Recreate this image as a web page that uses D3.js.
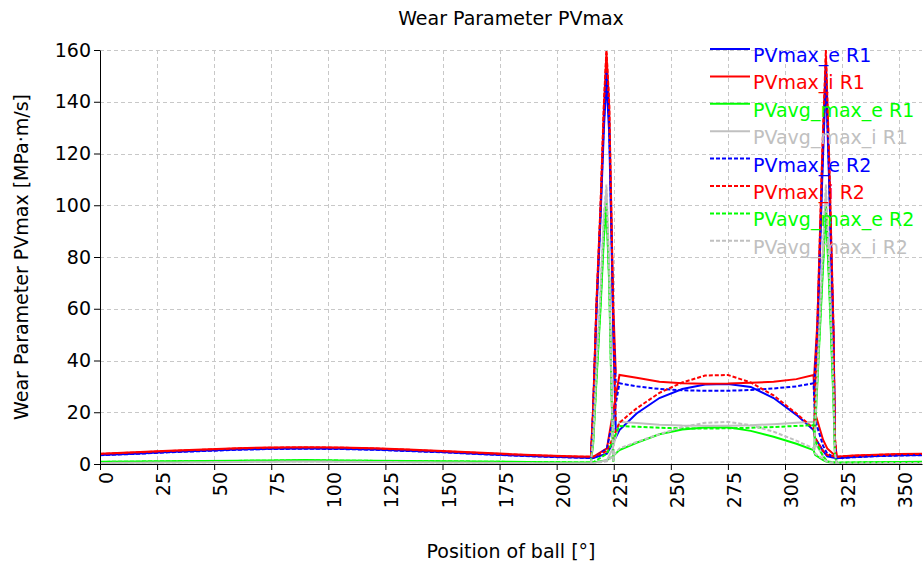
<!DOCTYPE html>
<html>
<head>
<meta charset="utf-8">
<script src="https://cdn.jsdelivr.net/npm/d3@7"></script>
<style>
    body { margin: 0; background: #fff; }
    svg { display: block; font-family: "DejaVu Sans", Tahoma, sans-serif; }
</style>
</head>
<body>
<svg id="chart" width="924" height="571"></svg>
<script>
// ball positions [deg] for the main traces
const positions = [0, 15, 30, 45, 60, 75, 90, 105, 120, 135, 150, 165, 180, 195, 210, 216, 222, 224.6, 227.5,
    235, 245, 255, 265, 275, 285, 295, 305, 312.5, 313.2, 316.7, 318.5, 322.5, 330, 340, 350, 360];
// positions of the two contact spikes
const spikeAPositions = [215, 216, 217.4, 219.2, 220.7, 221.8, 223, 223.9, 224.8, 225.9];
const spikeBPositions = [312.8, 314.2, 316.3, 317.9, 319.3, 321.2, 321.9, 322.6];

const xTicks = [0, 25, 50, 75, 100, 125, 150, 175, 200, 225, 250, 275, 300, 325, 350];
const yTicks = [0, 20, 40, 60, 80, 100, 120, 140, 160];

// R1
const pvmaxE_R1 = [3.5, 4.0, 4.6, 5.1, 5.6, 5.9, 6.0, 5.9, 5.6, 5.1, 4.6, 4.0, 3.4, 2.9, 2.5, 2.3, 4.0, 8.0, 13.1,
    19.5, 25.5, 29.0, 30.7, 30.9, 29.8, 25.5, 19.0, 13.1, 10.0, 5.0, 3.0, 2.2, 2.7, 3.1, 3.4, 3.5];
const pvmaxI_R1 = [4.0, 4.5, 5.1, 5.6, 6.1, 6.4, 6.5, 6.4, 6.1, 5.6, 5.0, 4.4, 3.8, 3.3, 2.9, 2.8, 6.0, 19.6, 34.4,
    33.3, 31.8, 31.2, 31.0, 31.1, 31.4, 31.8, 32.8, 34.4, 19.6, 9.3, 6.0, 2.8, 3.3, 3.6, 3.9, 4.0];
const pvavgMaxE_R1 = [0.9, 1.0, 1.1, 1.2, 1.3, 1.4, 1.5, 1.4, 1.3, 1.2, 1.1, 1.0, 0.9, 0.7, 0.6, 0.6, 1.5, 3.0, 5.4,
    8.2, 11.5, 13.3, 14.1, 14.2, 12.8, 10.5, 7.8, 5.4, 3.5, 1.5, 0.8, 0.5, 0.6, 0.7, 0.8, 0.9];
const pvavgMaxI_R1 = [0.4, 0.5, 0.6, 0.7, 0.8, 0.9, 1.0, 0.9, 0.8, 0.7, 0.6, 0.5, 0.4, 0.3, 0.3, 0.3, 1.5, 6.0, 16.3,
    15.8, 15.2, 14.9, 14.8, 14.8, 15.0, 15.4, 15.9, 16.3, 8.0, 3.0, 1.0, 0.2, 0.2, 0.3, 0.4, 0.4];
// R2
const pvmaxE_R2 = [3.4, 3.9, 4.5, 5.0, 5.5, 5.8, 5.9, 5.8, 5.5, 5.0, 4.5, 3.9, 3.3, 2.8, 2.4, 2.3, 6.0, 17.0, 31.2,
    30.0, 29.0, 28.5, 28.3, 28.3, 28.6, 29.2, 30.0, 31.2, 17.0, 7.0, 4.0, 2.2, 2.6, 3.0, 3.3, 3.4];
const pvmaxI_R2 = [3.9, 4.4, 5.0, 5.5, 6.0, 6.3, 6.4, 6.3, 6.0, 5.5, 4.9, 4.3, 3.7, 3.2, 2.8, 2.8, 5.0, 10.0, 16.0,
    21.5, 27.5, 31.5, 34.2, 34.4, 31.5, 26.5, 19.5, 13.8, 10.0, 5.0, 3.5, 2.8, 3.2, 3.5, 3.8, 3.9];
const pvavgMaxE_R2 = [0.8, 0.9, 1.0, 1.1, 1.2, 1.3, 1.4, 1.3, 1.2, 1.1, 1.0, 0.9, 0.8, 0.7, 0.6, 0.6, 4.0, 9.0, 14.7,
    14.4, 14.0, 13.8, 13.7, 13.8, 14.0, 14.3, 14.7, 15.0, 9.0, 3.0, 1.0, 0.5, 0.6, 0.7, 0.8, 0.8];
const pvavgMaxI_R2 = [0.4, 0.5, 0.6, 0.7, 0.8, 0.9, 1.0, 0.9, 0.8, 0.7, 0.6, 0.5, 0.4, 0.3, 0.3, 0.3, 1.0, 3.0, 6.0,
    8.5, 11.5, 14.3, 15.9, 16.3, 15.0, 12.5, 9.0, 6.0, 4.0, 2.0, 0.8, 0.2, 0.2, 0.3, 0.4, 0.4];

// spikes (null = no point)
const spikeA_pvmaxE_R1 = [2.3, 20, 58, 95, 130, 148, 128, 92, 50, 13];
const spikeA_pvmaxI_R1 = [2.8, 22, 61, 99, 138, 159, 138, 99, 61, 35];
const spikeA_pvavgMaxE_R1 = [0.6, 8, 32, 60, 88, 99, 70, 32, 1, null];
const spikeA_pvavgMaxI_R1 = [0.3, 10, 35, 65, 95, 106, 75, 35, 1, null];
const spikeA_pvmaxE_R2 = [2.3, 21, 60, 97, 133, 152, 132, 95, 55, 31];
const spikeA_pvmaxI_R2 = [2.8, 22, 62, 100, 140, 160, 140, 100, 55, 16];
const spikeA_pvavgMaxE_R2 = [0.6, 9, 33, 62, 90, 101, 71, 33, 1, null];
const spikeA_pvavgMaxI_R2 = [0.3, 10, 37, 68, 97, 108, 76, 36, 1, null];

const spikeB_pvmaxE_R1 = [13.1, 50, 110, 150, 110, 50, 8, 2.2];
const spikeB_pvmaxI_R1 = [34.4, 55, 118, 157, 118, 52, 9, 2.8];
const spikeB_pvavgMaxE_R1 = [5.4, 32, 70, 98, 70, 25, 3, 0.5];
const spikeB_pvavgMaxI_R1 = [16.3, 35, 75, 105, 75, 30, 4, 0.2];
const spikeB_pvmaxE_R2 = [31.2, 52, 113, 153, 112, 50, 8, 2.2];
const spikeB_pvmaxI_R2 = [13.8, 55, 120, 160, 120, 55, 10, 2.8];
const spikeB_pvavgMaxE_R2 = [15.0, 33, 72, 100, 72, 27, 3, 0.5];
const spikeB_pvavgMaxI_R2 = [6.0, 35, 78, 108, 78, 30, 4, 0.2];

const series = [
    { name: 'PVmax_e R1', color: '#0000ff', dash: null, main: pvmaxE_R1, a: spikeA_pvmaxE_R1, b: spikeB_pvmaxE_R1 },
    { name: 'PVmax_i R1', color: '#ff0000', dash: null, main: pvmaxI_R1, a: spikeA_pvmaxI_R1, b: spikeB_pvmaxI_R1 },
    { name: 'PVavg_max_e R1', color: '#00ff00', dash: null, main: pvavgMaxE_R1, a: spikeA_pvavgMaxE_R1, b: spikeB_pvavgMaxE_R1 },
    { name: 'PVavg_max_i R1', color: '#c0c0c0', dash: null, main: pvavgMaxI_R1, a: spikeA_pvavgMaxI_R1, b: spikeB_pvavgMaxI_R1 },
    { name: 'PVmax_e R2', color: '#0000ff', dash: '4,2', main: pvmaxE_R2, a: spikeA_pvmaxE_R2, b: spikeB_pvmaxE_R2 },
    { name: 'PVmax_i R2', color: '#ff0000', dash: '4,2', main: pvmaxI_R2, a: spikeA_pvmaxI_R2, b: spikeB_pvmaxI_R2 },
    { name: 'PVavg_max_e R2', color: '#00ff00', dash: '4,2', main: pvavgMaxE_R2, a: spikeA_pvavgMaxE_R2, b: spikeB_pvavgMaxE_R2 },
    { name: 'PVavg_max_i R2', color: '#c0c0c0', dash: '4,2', main: pvavgMaxI_R2, a: spikeA_pvavgMaxI_R2, b: spikeB_pvavgMaxI_R2 }
];

const svg = d3.select('#chart');
const plotLeft = 100, plotRight = 922, plotTop = 50, plotBottom = 464;

const x = d3.scaleLinear().domain([0, 360]).range([plotLeft, plotRight]);
const y = d3.scaleLinear().domain([0, 160]).range([plotBottom, plotTop]);

// grid
const grid = svg.append('g').attr('stroke', '#c8c8c8').attr('stroke-dasharray', '4,3').attr('stroke-width', 1);
grid.selectAll('.gx').data(xTicks.filter(d => d > 0)).enter().append('line')
    .attr('x1', d => Math.round(x(d)) + .5).attr('x2', d => Math.round(x(d)) + .5)
    .attr('y1', plotTop).attr('y2', plotBottom);
grid.selectAll('.gy').data(yTicks.filter(d => d > 0)).enter().append('line')
    .attr('x1', plotLeft).attr('x2', plotRight)
    .attr('y1', d => Math.round(y(d)) + .5).attr('y2', d => Math.round(y(d)) + .5);

// lines
const line = d3.line()
    .defined(d => d[1] != null)
    .x(d => x(d[0]))
    .y(d => y(d[1]));

const plot = svg.append('g');
series.forEach(s => {
    const parts = [
        positions.map((p, i) => [p, s.main[i]]),
        spikeAPositions.map((p, i) => [p, s.a[i]]),
        spikeBPositions.map((p, i) => [p, s.b[i]])
    ];
    parts.forEach(pts => {
        plot.append('path')
            .attr('d', line(pts))
            .attr('fill', 'none')
            .attr('stroke', s.color)
            .attr('stroke-width', 2)
            .attr('stroke-dasharray', s.dash);
    });
});

// axes
const xAxis = svg.append('g')
    .attr('transform', `translate(0,${plotBottom})`)
    .call(d3.axisBottom(x).tickValues(xTicks).tickSize(6).tickSizeOuter(0));
xAxis.select('.domain').attr('stroke', '#000');
xAxis.selectAll('text')
    .attr('font-size', 19)
    .attr('font-family', '"DejaVu Sans", Tahoma, sans-serif')
    .attr('fill', '#000')
    .attr('text-anchor', 'end')
    .attr('transform', 'rotate(-90)')
    .attr('x', -8)
    .attr('y', 0)
    .attr('dy', '0.66em');

const yAxis = svg.append('g')
    .attr('transform', `translate(${plotLeft},0)`)
    .call(d3.axisLeft(y).tickValues(yTicks).tickSize(6).tickSizeOuter(0).tickPadding(3));
yAxis.select('.domain').attr('stroke', '#000');
yAxis.selectAll('text')
    .attr('font-size', 19)
    .attr('font-family', '"DejaVu Sans", Tahoma, sans-serif')
    .attr('fill', '#000');

// titles
svg.append('text')
    .attr('x', (plotLeft + plotRight) / 2).attr('y', 25)
    .attr('text-anchor', 'middle').attr('font-size', 19)
    .text('Wear Parameter PVmax');

svg.append('text')
    .attr('x', (plotLeft + plotRight) / 2).attr('y', 558)
    .attr('text-anchor', 'middle').attr('font-size', 19)
    .text('Position of ball [°]');

svg.append('text')
    .attr('transform', `translate(28,${(plotTop + plotBottom) / 2}) rotate(-90)`)
    .attr('text-anchor', 'middle').attr('font-size', 19)
    .text('Wear Parameter PVmax [MPa·m/s]');

// legend
const legend = svg.append('g').attr('transform', 'translate(710,49)');
const item = legend.selectAll('.item').data(series).enter().append('g')
    .attr('transform', (d, i) => `translate(0,${i * 27.4})`);
item.append('line')
    .attr('x1', 0).attr('x2', 40).attr('y1', 0).attr('y2', 0)
    .attr('stroke', d => d.color).attr('stroke-width', 2)
    .attr('stroke-dasharray', d => d.dash);
item.append('text')
    .attr('x', 43).attr('y', 13)
    .attr('font-size', 19)
    .attr('fill', d => d.color)
    .text(d => d.name);
</script>
</body>
</html>
